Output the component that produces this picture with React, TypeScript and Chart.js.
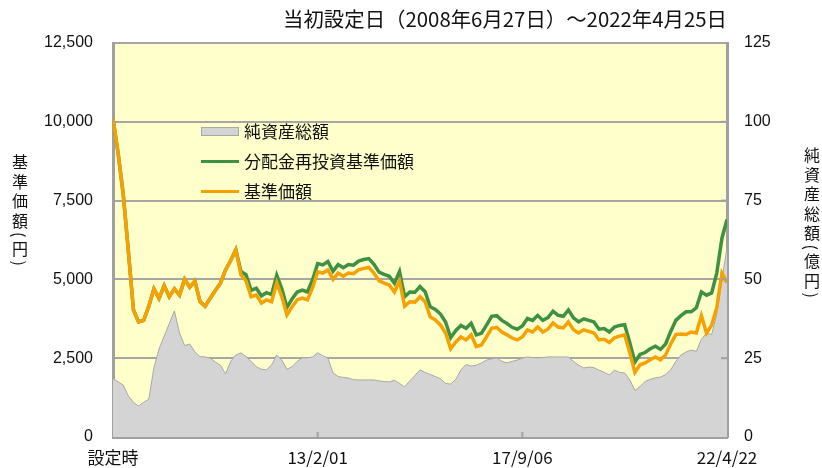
import React, { useEffect, useRef } from "react";
import { Chart, registerables } from "chart.js";

Chart.register(...registerables);

// ---- data ----
const tickIndex = [0, 40, 80, 120];
const tickLabels = ["設定時", "13/2/01", "17/9/06", "22/4/22"];

const priceValues = [
  10100, 9000, 7700, 5900, 4030, 3650, 3700, 4150, 4700, 4400,
  4800, 4450, 4700, 4500, 5000, 4750, 4950, 4300, 4150, 4400,
  4650, 4880, 5300, 5600, 5940, 5150, 4950, 4450, 4500, 4250,
  4350, 4290, 4890, 4450, 3870, 4130, 4350, 4410, 4350, 4730,
  5240, 5200, 5300, 5000, 5200, 5100, 5200, 5180, 5300, 5350,
  5380, 5200, 4950, 4880, 4820, 4600, 4950, 4150, 4290, 4280,
  4450, 4290, 3810, 3715, 3555, 3300, 2800, 3015, 3175, 3080,
  3240, 2870, 2920, 3175, 3450, 3480, 3330, 3240, 3140, 3080,
  3175, 3400, 3330, 3490, 3330, 3420, 3620, 3490, 3460, 3650,
  3400, 3300, 3400, 3350, 3300, 3080, 3100, 3000, 3150, 3200,
  3240, 2670, 2050, 2290, 2350, 2450, 2540, 2450, 2600, 2950,
  3250, 3270, 3250, 3330, 3300, 3850, 3300, 3550, 4100, 5200,
  4900,
];

const reinvestValues = [
  10100, 9000, 7700, 5900, 4030, 3650, 3700, 4150, 4700, 4400,
  4800, 4450, 4700, 4500, 5000, 4750, 4950, 4300, 4150, 4400,
  4650, 4880, 5300, 5600, 5940, 5250, 5150, 4650, 4720, 4480,
  4580, 4520, 5130, 4700, 4110, 4380, 4600, 4660, 4600, 4990,
  5500, 5460, 5570, 5260, 5470, 5370, 5470, 5450, 5580, 5630,
  5660, 5480, 5230, 5160, 5100, 4880, 5250, 4450, 4600, 4590,
  4770, 4610, 4130, 4050, 3900, 3650, 3150, 3380, 3540, 3450,
  3610, 3240, 3290, 3550, 3830, 3850, 3700, 3600, 3480, 3420,
  3520, 3760, 3700, 3860, 3700, 3790, 3990, 3860, 3830, 4030,
  3780, 3650, 3750, 3700, 3650, 3420, 3440, 3330, 3490, 3540,
  3560, 2990, 2380, 2620, 2680, 2800, 2880, 2780, 2950, 3350,
  3700, 3850, 3970, 3970, 4100, 4600, 4500, 4570, 5200, 6300,
  6900,
];

const netAssetValues = [
  18.5, 17.5, 16.5, 13, 11, 9.8, 11, 12, 22, 28,
  32, 36, 40, 33, 29, 29.5, 27, 25.5, 25.4, 25,
  23.8, 22.8, 20, 24, 26, 26.7, 25.5, 24, 22.3, 21.5,
  21.3, 22.9, 26, 24.4, 21.5, 22.3, 24, 25.1, 25.1, 25.4,
  26.7, 25.8, 25, 20.3, 19.2, 18.9, 18.7, 18.2, 18.1, 18.1,
  18.1, 18.1, 17.8, 17.6, 17.5, 18, 17, 15.9, 17.8, 19.5,
  21.3, 20.5, 19.8, 19.2, 18.5, 17, 16.8, 18.3, 21.3, 23,
  22.5, 22.8, 23.5, 24.4, 24.8, 25.1, 24, 23.5, 24, 24.4,
  25, 25.4, 25.2, 25.1, 25.2, 25.4, 25.4, 25.4, 25.4, 25.4,
  24, 22.8, 21.9, 22.2, 22, 21.2, 20.5, 19.7, 21.2, 20.5,
  20.3, 18.1, 14.8, 16, 17.6, 18.3, 18.8, 19, 19.8, 21.3,
  24, 26, 27, 27.6, 27.2, 31, 33, 32.5, 39, 50,
  60,
];

const seriesNames = ["純資産総額", "分配金再投資基準価額", "基準価額"];
const titleText = "当初設定日（2008年6月27日）～2022年4月25日";
const leftTitle = "基準価額(円)";
const rightTitle = "純資産総額(億円)";

const GRAY_FILL = "#D4D4D4";
const GRAY_LINE = "#A8A8A8";
const GREEN = "#3E9140";
const ORANGE = "#F5A100";
const AXIS = "#A0A0A0";
const CJK = '"Noto Sans CJK JP", sans-serif';
const NUM = '"Liberation Sans", Arial, sans-serif';

const toXY = (arr: number[]) => arr.map((v, i) => ({ x: i, y: v }));

const bgPlugin = {
  id: "plotBg",
  beforeDraw(chart: any) {
    const { ctx, chartArea: a } = chart;
    ctx.save();
    ctx.fillStyle = "#FFFFCC";
    ctx.fillRect(a.left, a.top, a.right - a.left, a.bottom - a.top);
    ctx.restore();
  },
  afterDatasetsDraw(chart: any) {
    const { ctx, chartArea: a, scales } = chart;
    ctx.save();
    ctx.strokeStyle = AXIS;
    ctx.lineWidth = 2;
    for (const t of tickIndex.slice(1, -1)) {
      const x = scales.x.getPixelForValue(t);
      ctx.beginPath();
      ctx.moveTo(x, a.bottom);
      ctx.lineTo(x, a.bottom - 5);
      ctx.stroke();
    }
    for (const v of [25, 50, 75, 100]) {
      const y = scales.y2.getPixelForValue(v);
      ctx.beginPath();
      ctx.moveTo(a.right, y);
      ctx.lineTo(a.right - 6, y);
      ctx.stroke();
    }
    ctx.restore();
  },
};

export default function App() {
  const ref = useRef<HTMLCanvasElement | null>(null);

  useEffect(() => {
    if (!ref.current) return;
    const chart = new Chart(ref.current, {
      type: "line",
      data: {
        datasets: [
          {
            label: seriesNames[2],
            data: toXY(priceValues),
            yAxisID: "y",
            borderColor: ORANGE,
            borderWidth: 3.5,
            pointRadius: 0,
            fill: false,
          },
          {
            label: seriesNames[1],
            data: toXY(reinvestValues),
            yAxisID: "y",
            borderColor: GREEN,
            borderWidth: 3.5,
            pointRadius: 0,
            fill: false,
          },
          {
            label: seriesNames[0],
            data: toXY(netAssetValues),
            yAxisID: "y2",
            borderColor: GRAY_LINE,
            backgroundColor: GRAY_FILL,
            borderWidth: 1,
            pointRadius: 0,
            fill: "origin",
          },
        ],
      },
      options: {
        animation: false,
        responsive: false,
        maintainAspectRatio: false,
        layout: { padding: { top: 43, left: 0, right: 0, bottom: 0 } },
        plugins: {
          legend: { display: false },
          tooltip: { enabled: false },
        },
        scales: {
          x: {
            type: "linear",
            min: 0,
            max: 120,
            afterBuildTicks: (s: any) => {
              s.ticks = tickIndex.map((v) => ({ value: v }));
            },
            afterFit: (s: any) => {
              s.height = 31;
            },
            ticks: {
              autoSkip: false,
              maxRotation: 0,
              padding: 10,
              color: "#111",
              font: { family: CJK, size: 17 },
              callback: (v: any) => tickLabels[tickIndex.indexOf(Number(v))],
            },
            grid: { display: false, drawTicks: false },
            border: { display: true, color: AXIS, width: 3 },
          },
          y: {
            position: "left",
            min: 0,
            max: 12500,
            afterFit: (s: any) => {
              s.width = 113;
            },
            ticks: {
              stepSize: 2500,
              padding: 20,
              color: "#111",
              font: { family: NUM, size: 16 },
              callback: (v: any) => Number(v).toLocaleString("en-US"),
            },
            grid: { color: "#A6A6A6", lineWidth: 2, drawTicks: false },
            border: { display: true, color: AXIS, width: 3 },
          },
          y2: {
            position: "right",
            min: 0,
            max: 125,
            afterFit: (s: any) => {
              s.width = 95;
            },
            ticks: {
              stepSize: 25,
              padding: 17,
              color: "#111",
              font: { family: NUM, size: 16 },
            },
            grid: { drawOnChartArea: false, drawTicks: false },
            border: { display: true, color: AXIS, width: 3 },
          },
        },
      },
      plugins: [bgPlugin],
    });
    return () => chart.destroy();
  }, []);

  const vertical: React.CSSProperties = {
    position: "absolute",
    writingMode: "vertical-rl",
    fontFamily: CJK,
    fontSize: 16,
    letterSpacing: 3.5,
    color: "#111",
    lineHeight: 1,
  };

  return (
    <div style={{ position: "absolute", left: 0, top: 0, width: 822, height: 468, background: "#fff" }}>
      <canvas ref={ref} width={822} height={468} style={{ display: "block" }} />
      <div
        style={{
          position: "absolute",
          right: 95,
          top: 4,
          fontFamily: CJK,
          fontSize: 20.4,
          color: "#111",
          whiteSpace: "nowrap",
          lineHeight: "28px",
        }}
      >
        {titleText}
      </div>
      <div style={{ ...vertical, left: 12, top: 154 }}>{leftTitle}</div>
      <div style={{ ...vertical, left: 804, top: 147 }}>{rightTitle}</div>
      <div style={{ position: "absolute", left: 201, top: 116, fontFamily: CJK, fontSize: 17, color: "#111" }}>
        {seriesNames.map((name, i) => (
          <div key={name} style={{ display: "flex", alignItems: "center", height: 30 }}>
            {i === 0 ? (
              <div style={{ width: 38, height: 9, background: GRAY_FILL, border: `1px solid ${GRAY_LINE}`, boxSizing: "border-box" }} />
            ) : (
              <div style={{ width: 38, height: 3, background: i === 1 ? GREEN : ORANGE }} />
            )}
            <span style={{ marginLeft: 5, lineHeight: "30px" }}>{name}</span>
          </div>
        ))}
      </div>
    </div>
  );
}
